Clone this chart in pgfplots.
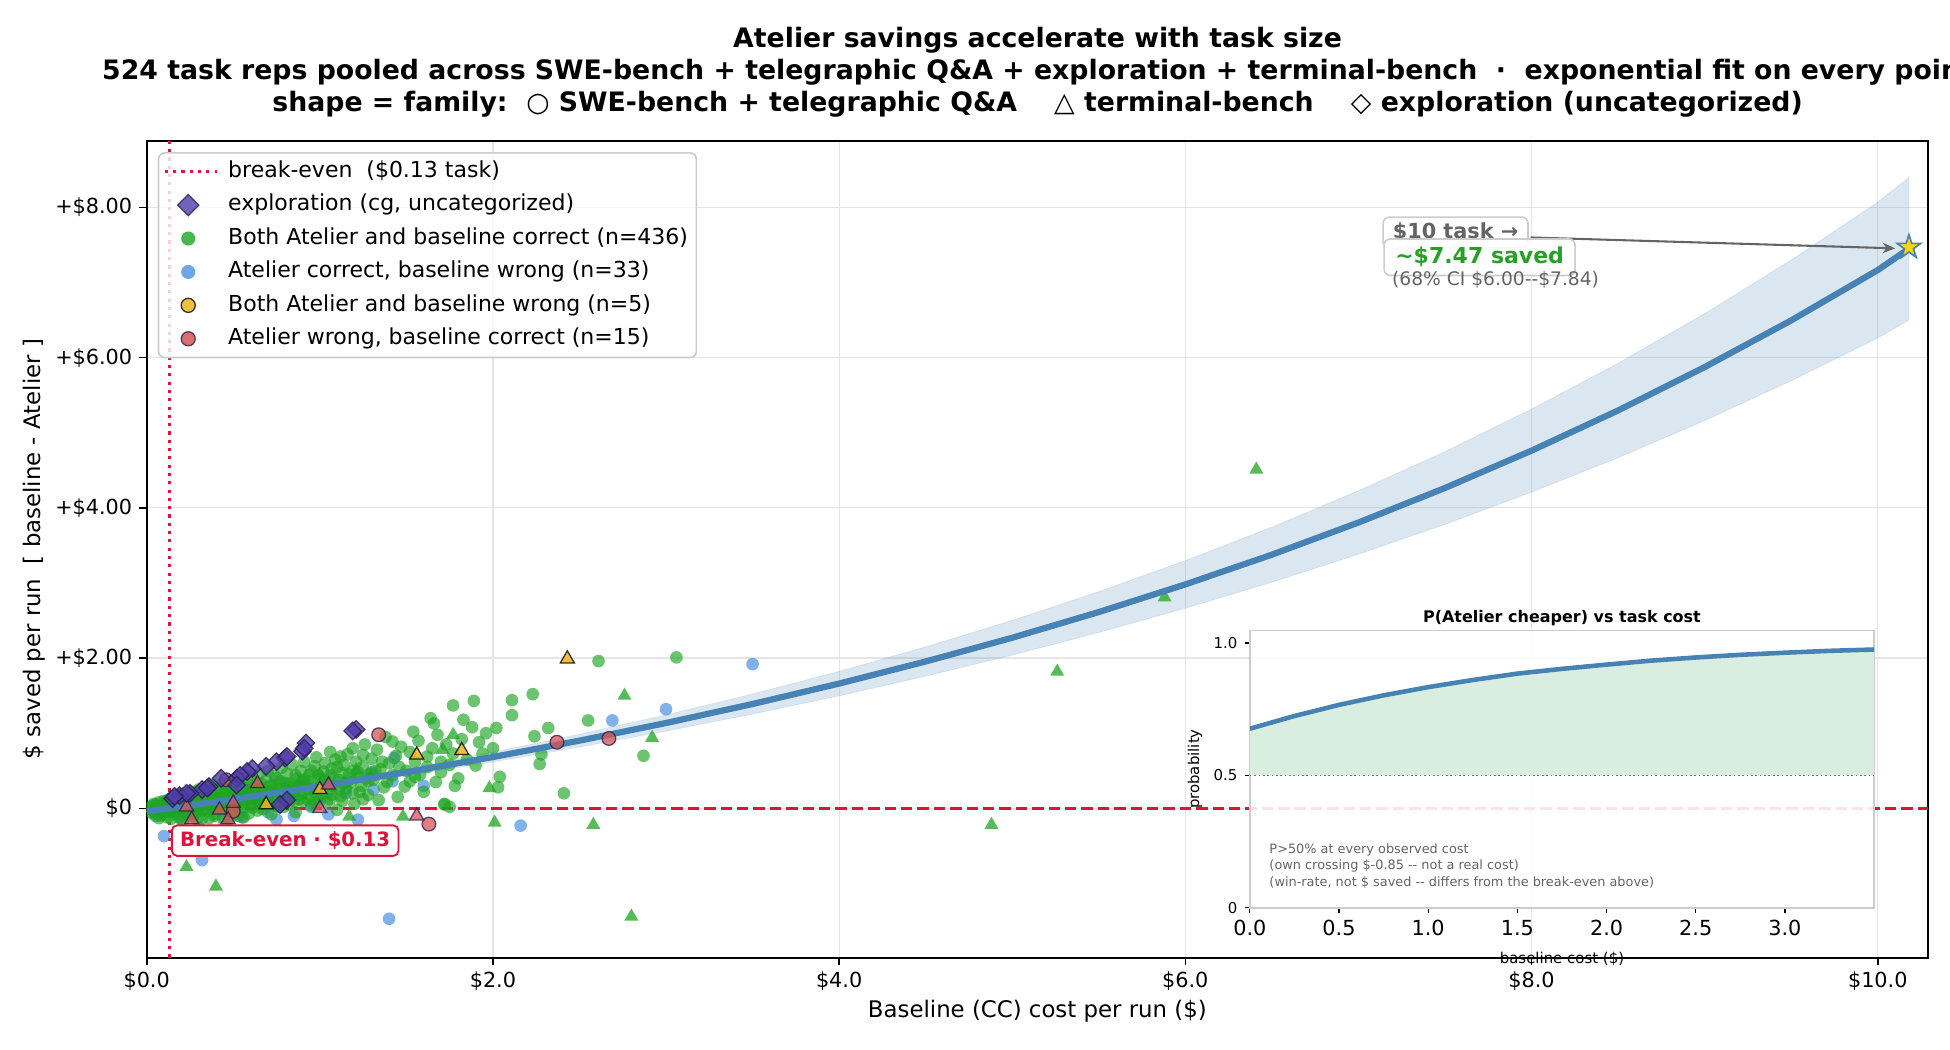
\documentclass[border=0pt]{standalone}
\usepackage{pgfplots}
\pgfplotsset{compat=1.18}
\usepgfplotslibrary{fillbetween}
\usetikzlibrary{arrows.meta}
\usepackage{fontspec}
\setmainfont{DejaVu Sans}
\definecolor{crimson}{RGB}{220,20,60}
\definecolor{steel}{RGB}{70,130,180}
\definecolor{cgreen}{RGB}{30,165,35}
\definecolor{cblue}{RGB}{74,144,226}
\definecolor{cyellow}{RGB}{240,180,30}
\definecolor{cred}{RGB}{215,85,85}
\definecolor{cpurple}{RGB}{80,60,170}
\definecolor{cedge}{RGB}{40,30,80}
\definecolor{gold}{RGB}{255,215,0}
\definecolor{anngray}{RGB}{100,100,100}
\definecolor{savegreen}{RGB}{40,160,40}
\definecolor{insetfill}{RGB}{217,238,225}

\pgfdeclareplotmark{fstar}{%
  \pgfpathmoveto{\pgfpointpolar{90}{\pgfplotmarksize}}%
  \pgfpathlineto{\pgfpointpolar{126}{0.382\pgfplotmarksize}}%
  \pgfpathlineto{\pgfpointpolar{162}{\pgfplotmarksize}}%
  \pgfpathlineto{\pgfpointpolar{198}{0.382\pgfplotmarksize}}%
  \pgfpathlineto{\pgfpointpolar{234}{\pgfplotmarksize}}%
  \pgfpathlineto{\pgfpointpolar{270}{0.382\pgfplotmarksize}}%
  \pgfpathlineto{\pgfpointpolar{306}{\pgfplotmarksize}}%
  \pgfpathlineto{\pgfpointpolar{342}{0.382\pgfplotmarksize}}%
  \pgfpathlineto{\pgfpointpolar{18}{\pgfplotmarksize}}%
  \pgfpathlineto{\pgfpointpolar{54}{0.382\pgfplotmarksize}}%
  \pgfpathclose
  \pgfusepathqfillstroke}

\pgfplotsset{
  legline/.style={legend image code/.code={\path[draw=none] (0pt,0pt) -- (26.6pt,0pt); \draw[##1] (1.5pt,0pt) -- (26.6pt,0pt);}},
  legmark/.style={legend image code/.code={\path[draw=none] (0pt,0pt) -- (26.6pt,0pt); \draw[##1] plot coordinates {(12.8pt,0pt)};}},
}

\begin{document}
\begin{tikzpicture}

\begin{axis}[
  at={(0.978in,0.616in)}, anchor=south west, scale only axis,
  width=11.875in, height=5.447in,
  xmin=0, xmax=10.29, ymin=-1.987, ymax=8.89,
  xtick={0,2,4,6,8,10}, xticklabels={\$0.0,\$2.0,\$4.0,\$6.0,\$8.0,\$10.0},
  ytick={0,2,4,6,8}, yticklabels={\$0,+\$2.00,+\$4.00,+\$6.00,+\$8.00},
  tick label style={font=\fontsize{10}{12}\selectfont},
  tick align=outside, major tick length=3.5pt, tick style={black, line width=0.8pt},
  tick pos=left,
  grid=major, major grid style={black!10, line width=0.6pt},
  axis line style={line width=1pt},
  xlabel={Baseline (CC) cost per run (\$)},
  ylabel={\$ saved per run\ \ [ baseline - Atelier ]},
  label style={font=\fontsize{11}{13}\selectfont},
  xlabel style={at={(axis description cs:0.5,-0.0654)}, anchor=center},
  ylabel style={at={(axis description cs:-0.0629,0.5)}, anchor=center},
  clip marker paths=true,
  legend cell align=left,
  legend style={at={(0.0062,0.9859)}, anchor=north west, draw=black!20, line width=0.8pt,
    fill=white, fill opacity=0.8, text opacity=1, draw opacity=1, rounded corners=3pt,
    inner xsep=1.5pt, inner ysep=1pt, column sep=2.2pt,
    font=\fontsize{10.6}{12}\selectfont,
    nodes={inner xsep=2.5pt, inner ysep=2.8pt, text height=8pt, text depth=2.5pt}},
]
% legend
\addlegendimage{legline, crimson, line width=1.5pt, dash pattern=on 1.5pt off 2.5pt}
\addlegendentry{break-even\ \ (\$0.13 task)}
\addlegendimage{legmark, only marks, mark=square*, mark size=3.6pt, mark options={rotate=45, fill=cpurple, fill opacity=0.8, draw=cedge, draw opacity=0.8, line width=0.6pt}}
\addlegendentry{exploration (cg, uncategorized)}
\addlegendimage{legmark, only marks, mark=*, mark size=3.4pt, mark options={draw=cgreen, draw opacity=0, fill=cgreen, fill opacity=0.8}}
\addlegendentry{Both Atelier and baseline correct (n=436)}
\addlegendimage{legmark, only marks, mark=*, mark size=3.4pt, mark options={draw=cblue, draw opacity=0, fill=cblue, fill opacity=0.8}}
\addlegendentry{Atelier correct, baseline wrong (n=33)}
\addlegendimage{legmark, only marks, mark=*, mark size=3.4pt, mark options={draw=black, draw opacity=0.8, line width=0.6pt, fill=cyellow, fill opacity=0.85}}
\addlegendentry{Both Atelier and baseline wrong (n=5)}
\addlegendimage{legmark, only marks, mark=*, mark size=3.4pt, mark options={draw=cedge, draw opacity=0.8, line width=0.6pt, fill=cred, fill opacity=0.85}}
\addlegendentry{Atelier wrong, baseline correct (n=15)}

% confidence band (upper edge, then lower edge reversed)
\addplot[fill=steel, fill opacity=0.2, draw=steel, draw opacity=0.12, forget plot] coordinates {
(0,-0.028)(0.5,0.139)(1,0.326)(1.5,0.529)(2,0.748)(2.5,0.987)(3,1.244)(3.5,1.523)(4,1.824)(4.5,2.150)(5,2.502)(5.5,2.885)(6,3.298)(6.5,3.744)(7,4.228)(7.5,4.750)(8,5.315)(8.5,5.926)(9,6.586)(9.5,7.300)(10,8.071)(10.18,8.40)
(10.18,6.50)(10,6.261)(9.5,5.692)(9,5.162)(8.5,4.668)(8,4.209)(7.5,3.780)(7,3.382)(6.5,3.010)(6,2.664)(5.5,2.341)(5,2.040)(4.5,1.760)(4,1.498)(3.5,1.255)(3,1.028)(2.5,0.816)(2,0.618)(1.5,0.433)(1,0.262)(0.5,0.101)(0,-0.054)} -- cycle;

% reference lines
\addplot[crimson, line width=1.5pt, dash pattern=on 1.5pt off 2.5pt, forget plot] coordinates {(0.13,-1.987)(0.13,8.89)};
\addplot[crimson, line width=1.5pt, dash pattern=on 5.5pt off 2.4pt, forget plot] coordinates {(0,0)(10.29,0)};

% Atelier correct, baseline wrong (blue)
\addplot[only marks, mark=*, mark size=3.05pt, mark options={draw=cblue, draw opacity=0, fill=cblue, fill opacity=0.7}, forget plot] coordinates {
(3.50,1.92)(3.00,1.32)(2.69,1.17)(2.16,-0.23)(1.40,-1.47)(0.32,-0.69)(0.10,-0.37)(1.43,0.67)(1.31,0.25)(1.22,-0.15)(0.85,-0.10)(1.42,0.36)
(0.55,-0.12)(0.65,0.05)(0.20,-0.15)(0.45,-0.20)(0.75,-0.15)(1.00,0.10)(0.15,0.00)(0.40,0.10)(0.90,0.30)(1.15,0.20)(0.60,0.25)(0.30,-0.25)(0.70,-0.05)(1.05,-0.08)(0.50,0.30)(0.25,0.05)(1.60,0.30)(0.05,-0.10)(0.38,-0.30)(1.30,0.48)(0.95,0.02)};

% Both correct, SWE-bench + Q&A (green circles)
\addplot[only marks, mark=*, mark size=3.05pt, mark options={draw=cgreen, draw opacity=0, fill=cgreen, fill opacity=0.65}, forget plot] coordinates {
(3.06,2.01)(2.61,1.96)(2.23,1.52)(2.11,1.44)(2.11,1.24)(1.89,1.43)(1.77,1.37)(1.83,1.18)(1.88,1.08)(2.02,1.07)(2.55,1.17)(2.32,1.07)(2.24,0.96)(2.87,0.70)(2.28,0.72)(2.27,0.59)(2.04,0.42)(2.03,0.28)(1.80,0.40)(1.90,0.57)(1.94,0.73)(2.41,0.20)(1.72,0.06)(1.75,0.02)(1.64,1.20)(1.66,1.13)(1.54,1.02)(1.42,0.89)(1.52,0.75)(1.62,0.69)(1.70,0.62)(1.77,0.73)(1.49,0.29)(1.34,0.11)(1.72,0.05)(1.06,0.75)(1.12,0.69)(1.19,0.80)(1.25,0.71)(1.36,0.62)
(0.02,0.00)(0.03,0.03)(0.04,-0.04)(0.05,0.05)(0.05,-0.08)(0.06,0.01)(0.07,0.08)(0.07,-0.03)(0.08,-0.10)(0.09,0.04)(0.10,0.10)(0.10,-0.05)(0.11,0.00)(0.12,0.07)(0.12,-0.12)(0.13,0.12)(0.14,-0.02)(0.15,0.05)(0.15,0.15)(0.16,-0.08)(0.17,0.10)(0.18,0.02)(0.18,0.18)(0.19,-0.12)(0.20,0.07)(0.20,0.14)(0.21,-0.03)(0.22,0.20)(0.23,0.04)(0.24,0.11)(0.24,-0.10)(0.25,0.17)(0.26,0.00)(0.27,0.22)(0.28,0.08)(0.28,-0.06)(0.29,0.15)(0.30,0.25)(0.31,0.03)(0.32,0.12)(0.32,-0.14)(0.33,0.19)(0.34,0.06)(0.35,0.28)(0.35,-0.04)(0.36,0.14)(0.37,0.22)(0.38,0.01)(0.38,0.31)(0.39,0.09)(0.40,-0.08)(0.40,0.18)(0.41,0.26)(0.42,0.05)(0.43,0.13)(0.44,0.33)(0.44,-0.12)(0.45,0.21)(0.46,0.02)(0.47,0.10)(0.47,0.28)(0.48,0.36)(0.49,-0.05)(0.50,0.16)(0.51,0.24)(0.52,0.07)(0.53,0.31)(0.53,-0.10)(0.54,0.40)(0.55,0.12)(0.56,0.20)(0.57,0.02)(0.58,0.28)(0.58,0.35)(0.59,-0.07)(0.60,0.15)(0.61,0.42)(0.62,0.08)(0.63,0.23)(0.63,0.33)(0.64,-0.03)(0.65,0.46)(0.66,0.17)(0.67,0.27)(0.68,0.05)(0.69,0.38)(0.70,0.12)(0.70,0.50)(0.71,0.22)(0.72,-0.08)(0.73,0.31)(0.74,0.43)(0.75,0.09)(0.76,0.19)(0.77,0.36)(0.78,0.54)(0.79,0.02)(0.80,0.26)(0.81,0.46)(0.82,0.14)(0.83,0.33)(0.84,0.58)(0.85,0.22)(0.86,-0.05)(0.87,0.40)(0.88,0.30)(0.89,0.50)(0.90,0.10)(0.91,0.62)(0.92,0.19)(0.93,0.36)(0.94,0.45)(0.95,0.04)(0.96,0.27)(0.97,0.56)(0.98,0.68)(0.99,0.15)(1.00,0.40)(1.01,0.33)(1.02,0.49)(1.03,0.60)(1.04,0.08)(1.05,0.22)(1.06,0.44)(1.07,0.53)(1.08,0.30)(1.09,0.65)(1.10,-0.02)(1.11,0.38)(1.12,0.16)(1.13,0.47)(1.14,0.58)(1.15,0.26)(1.16,0.72)(1.18,0.35)(1.19,0.50)(1.20,0.06)(1.21,0.62)(1.22,0.42)(1.24,0.30)(1.25,0.55)(1.26,0.85)(1.28,0.18)(1.29,0.46)(1.30,0.66)(1.31,0.38)(1.33,0.78)(1.35,0.52)(1.37,0.28)(1.38,0.95)(1.40,0.60)(1.42,0.44)(1.44,0.70)(1.45,0.15)(1.47,0.82)(1.50,0.50)(1.52,0.36)(1.55,0.62)(1.57,0.90)(1.58,0.45)(1.60,0.22)(1.62,0.55)(1.65,0.80)(1.67,0.35)(1.68,0.98)(1.70,0.48)(1.73,0.85)(1.75,0.58)(1.78,0.30)(1.82,0.92)(1.85,0.65)(1.92,0.88)(1.96,1.00)(2.00,0.80)
(0.03,-0.06)(0.04,0.06)(0.06,-0.02)(0.08,0.03)(0.09,-0.07)(0.11,0.09)(0.13,-0.05)(0.14,0.04)(0.16,0.11)(0.17,-0.01)(0.19,0.06)(0.21,0.13)(0.22,-0.06)(0.23,0.09)(0.25,0.02)(0.26,0.14)(0.27,-0.09)(0.29,0.05)(0.30,0.11)(0.31,0.18)(0.33,-0.02)(0.34,0.09)(0.36,0.04)(0.37,0.17)(0.39,-0.10)(0.41,0.07)(0.42,0.14)(0.43,0.24)(0.45,-0.01)(0.46,0.11)(0.48,0.19)(0.49,0.04)(0.51,0.13)(0.52,-0.03)(0.54,0.21)(0.55,0.29)(0.57,0.09)(0.59,0.17)(0.60,0.04)(0.62,0.26)(0.64,0.12)(0.66,0.33)(0.67,-0.01)(0.69,0.20)(0.71,0.08)(0.73,0.25)(0.75,0.40)(0.76,0.02)(0.78,0.17)(0.80,0.34)(0.82,0.05)(0.84,0.27)(0.86,0.44)(0.88,0.12)(0.90,0.36)(0.93,0.25)(0.95,0.50)(0.97,0.08)(1.00,0.28)(1.03,0.38)(1.07,0.18)(1.10,0.55)(1.14,0.33)(1.17,0.45)(1.23,0.22)(1.27,0.40)(1.32,0.50)(1.39,0.35)(1.46,0.55)(1.55,0.42)
(0.06,0.04)(0.08,-0.05)(0.11,0.05)(0.13,0.00)(0.16,0.03)(0.18,-0.06)(0.20,0.00)(0.22,0.09)(0.24,0.03)(0.26,-0.04)(0.28,0.12)(0.30,0.04)(0.32,-0.03)(0.33,0.10)(0.35,0.16)(0.37,0.07)(0.39,0.02)(0.41,0.12)(0.43,-0.04)(0.45,0.08)(0.47,0.17)(0.49,0.10)(0.51,0.03)(0.53,0.18)(0.55,0.06)(0.57,0.24)(0.59,0.12)(0.61,0.01)(0.63,0.16)(0.65,0.10)(0.67,0.22)(0.69,0.13)(0.71,0.30)(0.73,0.17)(0.75,0.04)(0.77,0.26)(0.79,0.14)(0.81,0.32)(0.83,0.20)(0.85,0.10)(0.87,0.28)(0.89,0.18)(0.91,0.38)(0.93,0.12)(0.95,0.30)(0.97,0.22)(0.99,0.44)(1.01,0.18)(1.04,0.32)(1.06,0.12)(1.08,0.40)(1.11,0.25)(1.13,0.10)(1.16,0.36)(1.19,0.20)(1.22,0.48)(1.25,0.12)(1.28,0.36)
(0.07,-0.13)(0.14,-0.14)(0.21,-0.16)(0.29,-0.15)(0.36,-0.13)(0.48,-0.14)(0.56,-0.12)};

% Both correct, terminal-bench (green triangles)
\addplot[only marks, mark=triangle*, mark size=3.9pt, mark options={draw=cgreen, draw opacity=0, fill=cgreen, fill opacity=0.75}, forget plot] coordinates {
(6.41,4.51)(5.88,2.81)(5.26,1.82)(4.88,-0.22)(2.80,-1.44)(2.92,0.94)(2.76,1.50)(2.58,-0.22)(2.01,-0.19)(1.98,0.27)(1.77,0.98)(1.71,0.78)(0.40,-1.04)(0.23,-0.78)(1.17,-0.11)(1.48,-0.11)(1.21,0.51)(1.29,0.42)(0.60,0.10)(0.85,0.20)(0.35,0.05)(1.00,0.45)};

% exponential fit
\addplot[steel, line width=3pt, forget plot] coordinates {(0,-0.041)(0.5,0.120)(1,0.294)(1.5,0.481)(2,0.683)(2.5,0.901)(3,1.136)(3.5,1.389)(4,1.661)(4.5,1.955)(5,2.271)(5.5,2.613)(6,2.981)(6.5,3.377)(7,3.805)(7.5,4.265)(8,4.762)(8.5,5.297)(9,5.874)(9.5,6.496)(10,7.166)(10.18,7.45)};

% Both wrong (yellow, terminal-bench)
\addplot[only marks, mark=triangle*, mark size=3.9pt, mark options={draw=black, draw opacity=0.8, line width=0.6pt, fill=cyellow, fill opacity=0.85}, forget plot] coordinates {(2.43,1.99)(1.56,0.71)(1.82,0.77)(0.69,0.05)(1.00,0.25)};

% Atelier wrong, baseline correct (red)
\addplot[only marks, mark=*, mark size=3.3pt, mark options={draw=cedge, draw opacity=0.8, line width=0.6pt, fill=cred, fill opacity=0.75}, forget plot] coordinates {(1.34,0.98)(0.46,0.38)(1.63,-0.21)(0.50,-0.04)(2.37,0.88)(2.67,0.93)};
\addplot[only marks, mark=triangle*, mark size=3.9pt, mark options={draw=cedge, draw opacity=0.8, line width=0.6pt, fill=cred, fill opacity=0.75}, forget plot] coordinates {(0.23,0.02)(0.64,0.33)(0.50,0.07)(0.42,-0.02)(0.26,-0.15)(0.47,-0.15)(1.05,0.31)(1.00,0.00)(1.56,-0.10)};

% exploration (diamonds)
\addplot[only marks, mark=square*, mark size=3.0pt, mark options={rotate=45, fill=cpurple, fill opacity=0.8, draw=cedge, draw opacity=0.8, line width=0.6pt}, forget plot] coordinates {
(1.21,1.05)(1.19,1.03)(0.92,0.87)(0.90,0.76)(0.80,0.67)(0.75,0.62)(0.69,0.56)(0.61,0.53)(0.58,0.49)(0.52,0.40)(0.43,0.40)(0.36,0.29)(0.32,0.25)(0.25,0.20)(0.19,0.17)(0.15,0.13)(0.81,0.11)(0.77,0.05)(0.23,0.20)(0.16,0.16)(0.54,0.44)(0.81,0.69)(0.91,0.80)(0.52,0.31)(0.35,0.27)};

% $10 task star
\addplot[only marks, mark=fstar, mark size=6pt, mark options={fill=gold, draw=steel, line width=0.8pt}, forget plot] coordinates {(10.18,7.47)};

% annotations
\node[draw=crimson, line width=0.9pt, rounded corners=2.5pt, fill=white, text=crimson,
  font=\bfseries\fontsize{9.5}{11}\selectfont, inner xsep=4pt, inner ysep=0pt, minimum height=14.7pt]
  at (axis cs:0.80,-0.43) {Break-even · \$0.13};
\node[draw=black!20, line width=0.8pt, rounded corners=3pt, fill=white, fill opacity=0.9, text opacity=1, text=anngray,
  font=\bfseries\fontsize{10}{12}\selectfont, inner sep=0pt, minimum width=69.8pt, minimum height=14.8pt]
  at (axis cs:7.561,7.666) {\$10 task →};
\draw[anngray, line width=1pt, -{Stealth[length=6pt,width=5pt]}] (axis cs:7.995,7.60) -- (axis cs:10.10,7.455);
\node[draw=black!20, line width=0.8pt, rounded corners=3pt, fill=white, fill opacity=0.9, text opacity=1, text=savegreen,
  font=\bfseries\fontsize{10.6}{12.7}\selectfont, inner sep=0pt, minimum width=92pt, minimum height=17.6pt]
  at (axis cs:7.700,7.337) {\textasciitilde\$7.47 saved};
\node[anchor=west, inner sep=0pt, text=anngray, font=\fontsize{9}{11}\selectfont]
  at (axis cs:7.192,7.036) {(68\% CI \$6.00-{}-\$7.84)};
\end{axis}

% inset background (semi-transparent, as in the reference)
\fill[white, fill opacity=0.88] (8.332in,0.948in) rectangle ++(4.162in,1.849in);

% inset
\begin{axis}[
  at={(8.332in,0.948in)}, anchor=south west, scale only axis,
  width=4.162in, height=1.849in,
  xmin=0, xmax=3.5, ymin=0, ymax=1.047,
  xtick={0,0.5,1,1.5,2,2.5,3}, xticklabels={0.0,0.5,1.0,1.5,2.0,2.5,3.0},
  ytick={0,0.5,1}, yticklabels={0,0.5,1.0},
  xticklabel style={font=\fontsize{10}{12}\selectfont},
  yticklabel style={font=\fontsize{7.2}{8.6}\selectfont},
  tick align=outside, major tick length=2.5pt, tick style={black, line width=0.6pt},
  tick pos=left,
  axis line style={draw=black!20, line width=0.9pt},
  title={P(Atelier cheaper) vs task cost},
  title style={font=\bfseries\fontsize{7.7}{9}\selectfont, at={(0.5,1)}, anchor=center, yshift=0pt},
  xlabel={baseline cost (\$)},
  xlabel style={font=\fontsize{7.2}{8.6}\selectfont, at={(axis description cs:0.5,-0.184)}, anchor=center},
  ylabel={probability},
  ylabel style={font=\fontsize{7.2}{8.6}\selectfont, at={(axis description cs:-0.0878,0.5)}, anchor=center},
]
\addplot[fill=insetfill, draw=none] coordinates {(0,0.5)(0,0.676)(0.25,0.724)(0.5,0.766)(0.75,0.802)(1,0.833)(1.25,0.860)(1.5,0.884)(1.75,0.902)(2,0.918)(2.25,0.933)(2.5,0.945)(2.75,0.955)(3,0.963)(3.25,0.970)(3.5,0.975)(3.5,0.5)} -- cycle;
\addplot[black!55, line width=0.8pt, dash pattern=on 0.8pt off 1.3pt] coordinates {(0,0.5)(3.5,0.5)};
\addplot[steel, line width=2.2pt] coordinates {(0,0.676)(0.25,0.724)(0.5,0.766)(0.75,0.802)(1,0.833)(1.25,0.860)(1.5,0.884)(1.75,0.902)(2,0.918)(2.25,0.933)(2.5,0.945)(2.75,0.955)(3,0.963)(3.25,0.970)(3.5,0.975)};
\node[anchor=west, inner sep=0pt, text=anngray, font=\fontsize{6.2}{7.4}\selectfont] at (axis cs:0.108,0.220) {P>50\% at every observed cost};
\node[anchor=west, inner sep=0pt, text=anngray, font=\fontsize{6.2}{7.4}\selectfont] at (axis cs:0.108,0.157) {(own crossing \$-0.85 -{}- not a real cost)};
\node[anchor=west, inner sep=0pt, text=anngray, font=\fontsize{6.2}{7.4}\selectfont] at (axis cs:0.108,0.094) {(win-rate, not \$ saved -{}- differs from the break-even above)};
\end{axis}

% titles
\node[font=\bfseries\fontsize{12.88}{15.5}\selectfont] at (6.917in,6.734in) {Atelier savings accelerate with task size};
\node[font=\bfseries\fontsize{12.88}{15.5}\selectfont] at (6.917in,6.519in) {524 task reps pooled across SWE-bench + telegraphic Q\&A + exploration + terminal-bench\ \ ·\ \ exponential fit on every point};
\node[font=\bfseries\fontsize{12.88}{15.5}\selectfont] at (6.917in,6.303in) {shape = family:\ \ ○ SWE-bench + telegraphic Q\&A\ \ \ \ △ terminal-bench\ \ \ \ ◇ exploration (uncategorized)};

\pgfresetboundingbox
\useasboundingbox (0,0) rectangle (13in,7in);
\end{tikzpicture}
\end{document}
